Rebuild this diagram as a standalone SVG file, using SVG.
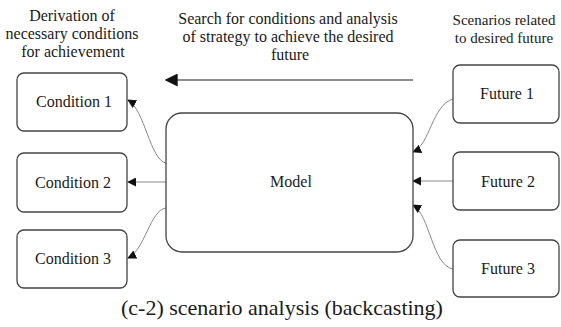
<svg xmlns="http://www.w3.org/2000/svg" width="561" height="327" viewBox="0 0 561 327" font-family="'Liberation Serif', 'Times New Roman', 'DejaVu Serif', serif">
<style>
text{fill:#1a1a1a;text-anchor:middle}
.lbl{font-size:16px}
.sm{font-size:15px}
.box{fill:#fff;stroke:#444;stroke-width:1.3}
.con{fill:none;stroke:#888;stroke-width:1}
.str{fill:none;stroke:#666;stroke-width:1.5}
</style>
<defs>
<marker id="ah" viewBox="0 0 10 10" refX="9" refY="5" markerWidth="9" markerHeight="9" markerUnits="userSpaceOnUse" orient="auto">
<path d="M0,0 L10,5 L0,10 Z" fill="#111"/>
</marker>
<marker id="ahb" viewBox="0 0 10 10" refX="9" refY="5" markerWidth="13" markerHeight="13" markerUnits="userSpaceOnUse" orient="auto">
<path d="M0,0 L10,5 L0,10 Z" fill="#111"/>
</marker>
</defs>
<rect width="561" height="327" fill="#fff"/>
<g id="hdr-left">
<text class="lbl" x="72" y="21">Derivation of</text>
<text class="lbl" x="72" y="39">necessary conditions</text>
<text class="lbl" x="73" y="57">for achievement</text>
</g>
<g id="hdr-mid">
<text class="lbl" x="288" y="24">Search for conditions and analysis</text>
<text class="lbl" x="288" y="42">of strategy to achieve the desired</text>
<text class="lbl" x="290" y="60">future</text>
</g>
<g id="hdr-right">
<text class="sm" x="504" y="25">Scenarios related</text>
<text class="sm" x="504" y="43">to desired future</text>
</g>
<g id="connectors">
<line class="str" x1="413" y1="80" x2="166" y2="80" marker-end="url(#ahb)"/>
<path class="con" d="M166,163 C150,160 145,110 128,100" marker-end="url(#ah)"/>
<line class="con" x1="166" y1="182" x2="128" y2="182" marker-end="url(#ah)"/>
<path class="con" d="M166,208 C150,210 145,250 128,258" marker-end="url(#ah)"/>
<path class="con" d="M453,99 C432,105 430,145 413,152" marker-end="url(#ah)"/>
<line class="con" x1="453" y1="181" x2="413" y2="181" marker-end="url(#ah)"/>
<path class="con" d="M453,269 C432,265 430,215 413,205" marker-end="url(#ah)"/>
</g>
<g id="cond1"><rect class="box" x="17" y="73" width="110" height="58" rx="7"/><text class="lbl" x="74" y="107">Condition 1</text></g>
<g id="cond2"><rect class="box" x="17" y="153" width="110" height="59" rx="7"/><text class="lbl" x="73" y="188">Condition 2</text></g>
<g id="cond3"><rect class="box" x="17" y="230" width="110" height="58" rx="7"/><text class="lbl" x="73" y="264">Condition 3</text></g>
<g id="model"><rect class="box" x="166" y="113" width="247" height="139" rx="16"/><text class="lbl" x="291" y="187">Model</text></g>
<g id="fut1"><rect class="box" x="453" y="65" width="106" height="58" rx="7"/><text class="lbl" x="507" y="99">Future 1</text></g>
<g id="fut2"><rect class="box" x="453" y="152" width="106" height="58" rx="7"/><text class="lbl" x="508" y="187">Future 2</text></g>
<g id="fut3"><rect class="box" x="453" y="240" width="106" height="57" rx="7"/><text class="lbl" x="508" y="274">Future 3</text></g>
<text x="282" y="315" style="font-size:22px">(c-2) scenario analysis (backcasting)</text>
</svg>
